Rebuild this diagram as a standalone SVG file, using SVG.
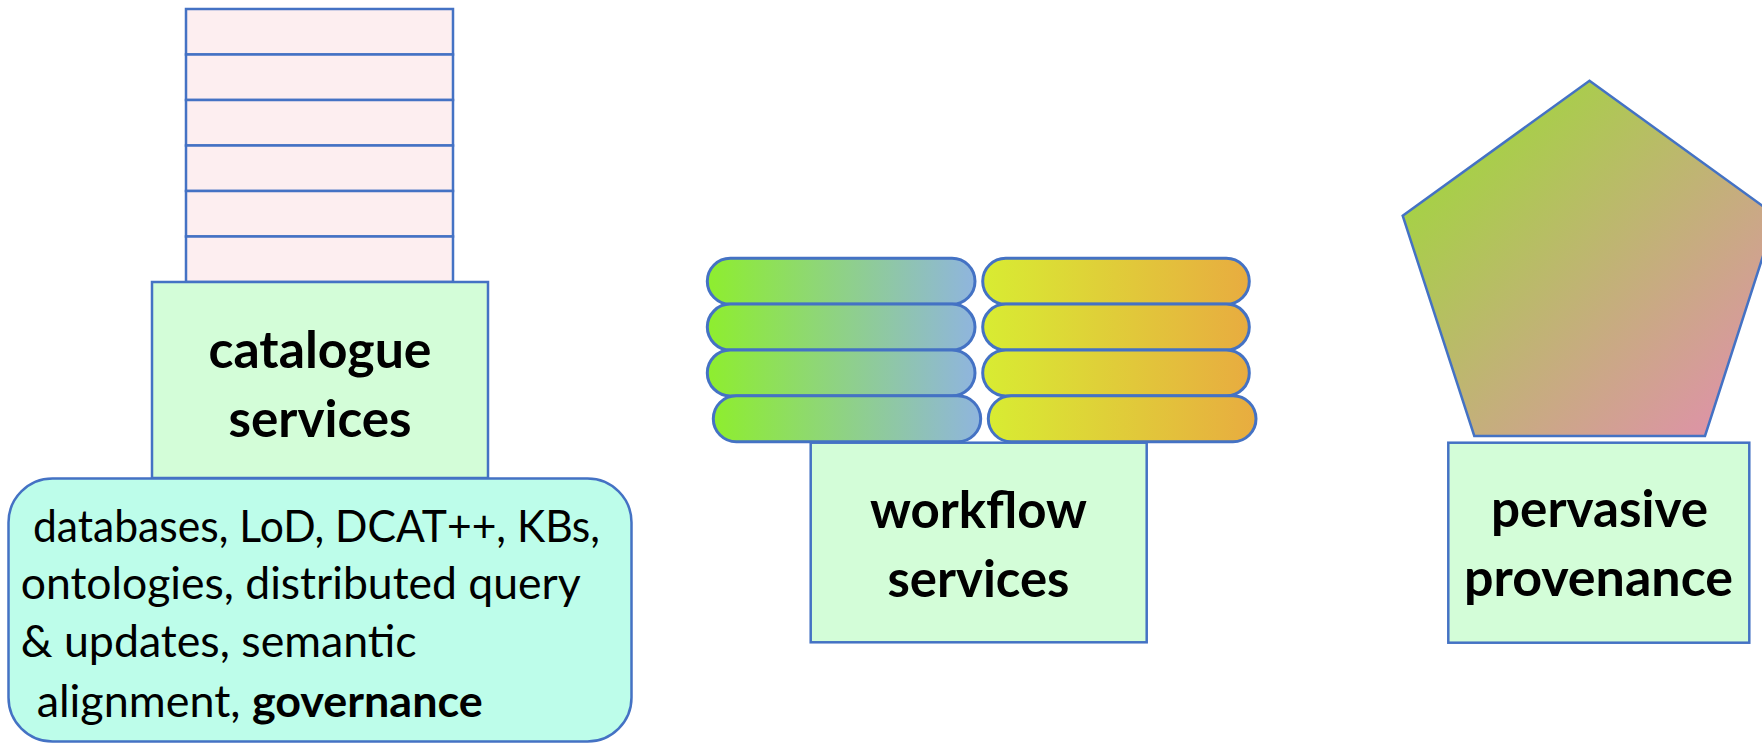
<svg xmlns="http://www.w3.org/2000/svg" width="1762" height="743" viewBox="0 0 1762 743">
  <style>
    .box { fill: #D3FDD8; stroke: #4472C4; stroke-width: 2.5; }
    .stack { fill: #FDEEF0; stroke: #4472C4; stroke-width: 2.5; }
    .note { fill: #BDFDEA; stroke: #4472C4; stroke-width: 2.5; }
    .pillL { fill: url(#gL); stroke: #4472C4; stroke-width: 3; }
    .pillR { fill: url(#gR); stroke: #4472C4; stroke-width: 3; }
    .lbl { font-family: Lato, "Liberation Sans", sans-serif; font-weight: bold; font-size: 51px; fill: #000; text-anchor: middle; }
    .txt { font-family: Lato, "Liberation Sans", sans-serif; font-size: 44px; fill: #000; }
    .b { font-weight: bold; }
  </style>
  <defs>
    <linearGradient id="gL" x1="0" y1="0" x2="1" y2="0">
      <stop offset="0" stop-color="#8EEE2E"/>
      <stop offset="1" stop-color="#8FB5DE"/>
    </linearGradient>
    <linearGradient id="gR" x1="0" y1="0" x2="1" y2="0">
      <stop offset="0" stop-color="#D8EC32"/>
      <stop offset="1" stop-color="#E8AC40"/>
    </linearGradient>
    <linearGradient id="gP" x1="0" y1="0" x2="1" y2="1">
      <stop offset="0" stop-color="#98E02E"/>
      <stop offset="1" stop-color="#E48CB2"/>
    </linearGradient>
  </defs>

  <g id="catalogue-stack">
    <rect class="stack" x="186" y="9" width="267" height="45.5"/>
    <rect class="stack" x="186" y="54.5" width="267" height="45.5"/>
    <rect class="stack" x="186" y="100" width="267" height="45.5"/>
    <rect class="stack" x="186" y="145.5" width="267" height="45.5"/>
    <rect class="stack" x="186" y="191" width="267" height="45.5"/>
    <rect class="stack" x="186" y="236.5" width="267" height="45.5"/>
  </g>

  <g id="catalogue-services">
    <rect class="box" x="152" y="282" width="336" height="196"/>
    <text class="lbl" x="320" y="368" textLength="223" lengthAdjust="spacingAndGlyphs">catalogue</text>
    <text class="lbl" x="320" y="437" textLength="183" lengthAdjust="spacingAndGlyphs">services</text>
  </g>

  <g id="catalogue-details">
    <rect class="note" x="8.5" y="478.5" width="623" height="263" rx="44" ry="44"/>
    <text class="txt" x="33" y="541.5" textLength="567" lengthAdjust="spacingAndGlyphs">databases, LoD, DCAT++, KBs,</text>
    <text class="txt" x="20.7" y="599" textLength="560" lengthAdjust="spacingAndGlyphs">ontologies, distributed query</text>
    <text class="txt" x="20.7" y="656.5" textLength="396" lengthAdjust="spacingAndGlyphs">&amp; updates, semantic</text>
    <text class="txt" x="36.7" y="716.5" textLength="446" lengthAdjust="spacingAndGlyphs">alignment, <tspan class="b">governance</tspan></text>
  </g>

  <g id="workflow-pills">
    <rect class="pillL" x="707.3" y="258.3" width="267.7" height="46" rx="23" ry="23"/>
    <rect class="pillR" x="982.7" y="258.3" width="266.6" height="46" rx="23" ry="23"/>
    <rect class="pillL" x="707.3" y="304.1" width="267.7" height="46" rx="23" ry="23"/>
    <rect class="pillR" x="982.7" y="304.1" width="266.6" height="46" rx="23" ry="23"/>
    <rect class="pillL" x="707.3" y="349.9" width="267.7" height="46" rx="23" ry="23"/>
    <rect class="pillR" x="982.7" y="349.9" width="266.6" height="46" rx="23" ry="23"/>
    <rect class="pillL" x="713.3" y="395.7" width="267.4" height="46" rx="23" ry="23"/>
    <rect class="pillR" x="988.3" y="395.7" width="267.7" height="46" rx="23" ry="23"/>
  </g>

  <g id="workflow-services">
    <rect class="box" x="810.7" y="442.7" width="336" height="199.6"/>
    <text class="lbl" x="978.5" y="528.3" textLength="217" lengthAdjust="spacingAndGlyphs">workflow</text>
    <text class="lbl" x="978.5" y="596.7" textLength="182" lengthAdjust="spacingAndGlyphs">services</text>
  </g>

  <g id="provenance-pentagon">
    <polygon points="1589.5,80.7 1776,215.7 1705,436 1474.3,436 1402.7,215.7" fill="url(#gP)" stroke="#4472C4" stroke-width="2.5" stroke-linejoin="miter"/>
  </g>

  <g id="pervasive-provenance">
    <rect class="box" x="1448.3" y="442.7" width="301" height="200"/>
    <text class="lbl" x="1599.5" y="527.3" textLength="217" lengthAdjust="spacingAndGlyphs">pervasive</text>
    <text class="lbl" x="1598.5" y="595.7" textLength="269" lengthAdjust="spacingAndGlyphs">provenance</text>
  </g>

  <g id="connectors"></g>
</svg>
